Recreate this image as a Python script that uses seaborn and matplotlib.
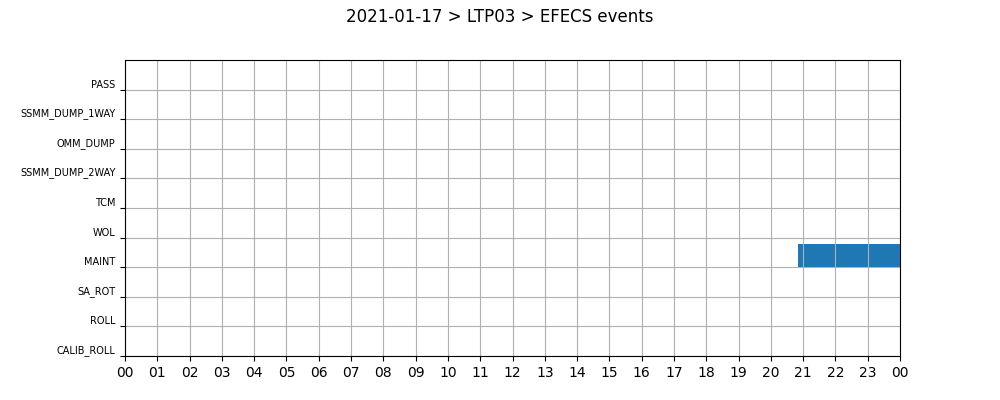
import datetime as dt

import matplotlib
matplotlib.use("Agg")
import matplotlib.pyplot as plt
import matplotlib.dates as mdates
import seaborn as sns

# event categories, bottom to top
categories = ["CALIB_ROLL", "ROLL", "SA_ROT", "MAINT", "WOL",
              "TCM", "SSMM_DUMP_2WAY", "OMM_DUMP", "SSMM_DUMP_1WAY", "PASS"]

# events: category, start, end
event_cats = ["MAINT"]
event_starts = [dt.datetime(2021, 1, 17, 20, 50)]
event_ends = [dt.datetime(2021, 1, 18, 0, 0)]

day_start = dt.datetime(2021, 1, 17)
day_end = dt.datetime(2021, 1, 18)

sns.set_style("ticks", {
    "axes.edgecolor": "black",
    "axes.linewidth": 1.0,
    "axes.labelcolor": "black",
    "text.color": "black",
    "grid.color": "#b0b0b0",
    "xtick.color": "black",
    "ytick.color": "black",
    "xtick.direction": "out",
    "ytick.direction": "out",
    "axes.axisbelow": "line",
})
plt.rcParams["font.family"] = ["DejaVu Sans"]

fig = plt.figure(figsize=(10, 4), dpi=100)
ax = fig.add_axes([0.125, 0.11, 0.775, 0.74])

for cat, s, e in zip(event_cats, event_starts, event_ends):
    y = categories.index(cat)
    x0 = mdates.date2num(s)
    ax.broken_barh([(x0, mdates.date2num(e) - x0)], (y, 0.8),
                   facecolors="#1f77b4", edgecolor="none")

ax.set_xlim(mdates.date2num(day_start), mdates.date2num(day_end))
ax.set_ylim(0, len(categories))
ax.xaxis.set_major_locator(mdates.HourLocator(interval=1))
ax.xaxis.set_major_formatter(mdates.DateFormatter("%H"))
ax.set_yticks(range(len(categories)))
ax.set_yticklabels(categories, fontsize=7, va="bottom")
ax.tick_params(axis="x", labelsize=10)
ax.grid(True, color="#b0b0b0", linewidth=0.8)

fig.suptitle("2021-01-17 > LTP03 > EFECS events", fontsize=12, color="black")

fig.savefig("out.png", dpi=100)
